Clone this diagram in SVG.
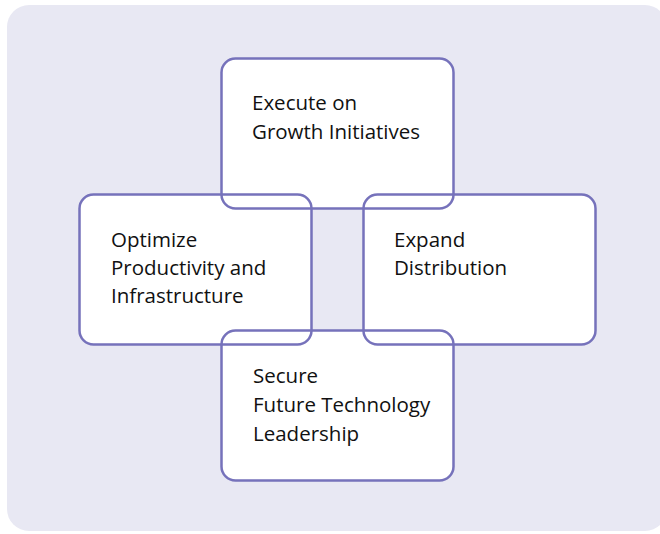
<svg xmlns="http://www.w3.org/2000/svg" width="660" height="534" viewBox="0 0 660 534">
<style>
.bg{fill:#e8e8f3}
.fill{fill:#ffffff;stroke:none}
.box{fill:none;stroke:#7672bb;stroke-width:2.5}
.lbl{font-family:"Open Sans","Noto Sans",sans-serif;font-size:20.5px;fill:#111111}
</style>
<rect class="bg" x="7" y="5" width="660" height="526" rx="22"/>
<g id="fills">
<rect class="fill" x="221.5" y="58.5" width="232" height="150" rx="14"/>
<rect class="fill" x="79.5" y="194.5" width="232" height="150" rx="14"/>
<rect class="fill" x="363.5" y="194.5" width="232" height="150" rx="14"/>
<rect class="fill" x="221.5" y="330.5" width="232" height="150" rx="14"/>
</g>
<g id="connectors"></g>
<g id="node-top">
<rect class="box" x="221.5" y="58.5" width="232" height="150" rx="14"/>
<text class="lbl" x="252" y="110">Execute on</text>
<text class="lbl" x="252" y="139">Growth Initiatives</text>
</g>
<g id="node-left">
<rect class="box" x="79.5" y="194.5" width="232" height="150" rx="14"/>
<text class="lbl" x="111" y="247">Optimize</text>
<text class="lbl" x="111" y="275">Productivity and</text>
<text class="lbl" x="111" y="303">Infrastructure</text>
</g>
<g id="node-right">
<rect class="box" x="363.5" y="194.5" width="232" height="150" rx="14"/>
<text class="lbl" x="394" y="247">Expand</text>
<text class="lbl" x="394" y="275">Distribution</text>
</g>
<g id="node-bottom">
<rect class="box" x="221.5" y="330.5" width="232" height="150" rx="14"/>
<text class="lbl" x="253" y="383">Secure</text>
<text class="lbl" x="253" y="412">Future Technology</text>
<text class="lbl" x="253" y="441">Leadership</text>
</g>
</svg>
